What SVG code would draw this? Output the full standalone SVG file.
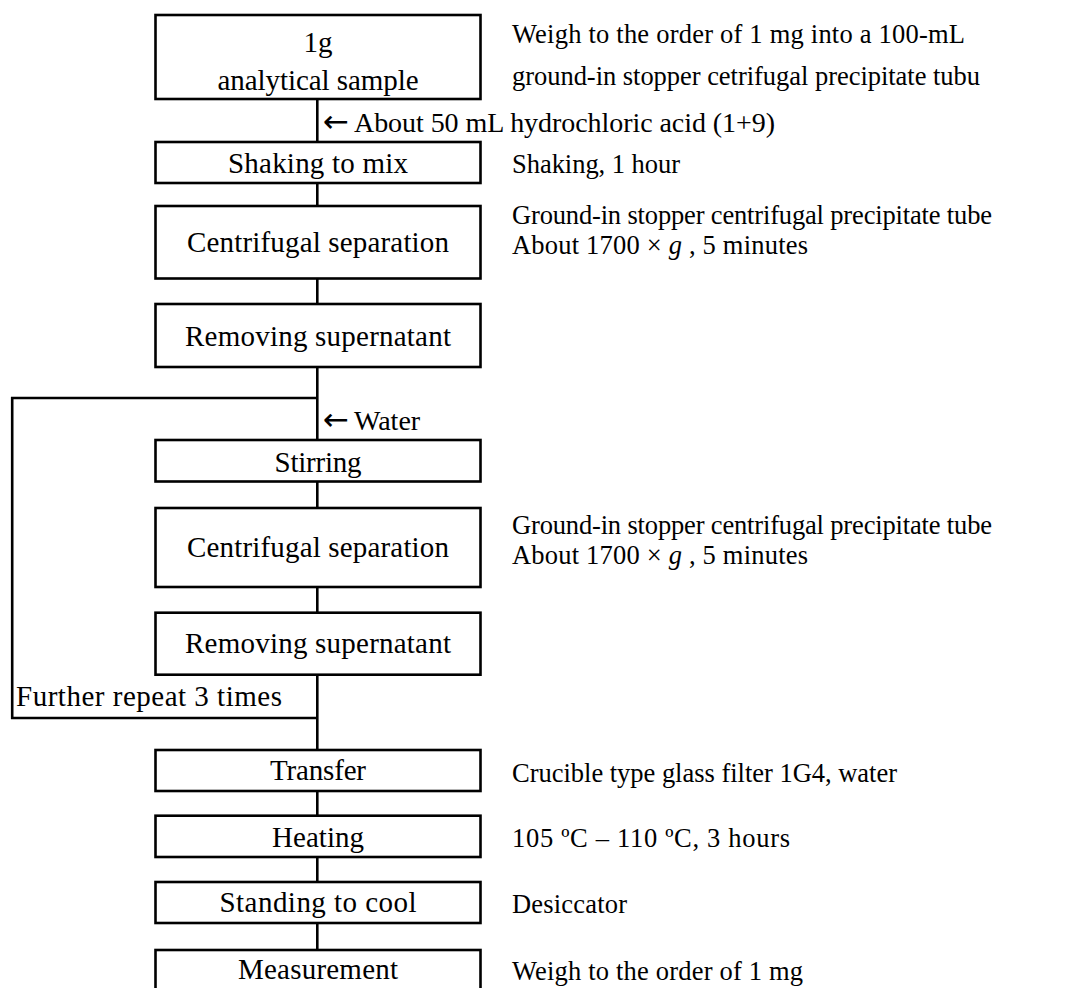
<svg xmlns="http://www.w3.org/2000/svg" width="1067" height="988" viewBox="0 0 1067 988">
<style>
  .box { fill: #ffffff; stroke: #000000; stroke-width: 2.6; }
  .ln { fill: none; stroke: #000000; stroke-width: 2.6; }
  .t { font-family: "Liberation Serif", "Times New Roman", serif; font-size: 29px; fill: #000000; }
  .c { text-anchor: middle; }
  .r { font-family: "Liberation Serif", "Times New Roman", serif; font-size: 26.5px; fill: #000000; }
  .n { font-family: "Liberation Serif", "Times New Roman", serif; font-size: 28px; fill: #000000; }
  .arr { font-family: "DejaVu Sans", sans-serif; font-size: 31px; }
</style>
<rect width="1067" height="988" fill="#ffffff"/>
<g id="connectors">
  <line class="ln" x1="317.3" y1="99" x2="317.3" y2="142"/>
  <line class="ln" x1="317.3" y1="183" x2="317.3" y2="206"/>
  <line class="ln" x1="317.3" y1="278.5" x2="317.3" y2="304"/>
  <line class="ln" x1="317.3" y1="367" x2="317.3" y2="440"/>
  <line class="ln" x1="317.3" y1="481.5" x2="317.3" y2="508"/>
  <line class="ln" x1="317.3" y1="587" x2="317.3" y2="612.7"/>
  <line class="ln" x1="317.3" y1="674.7" x2="317.3" y2="750"/>
  <line class="ln" x1="317.3" y1="791" x2="317.3" y2="815.7"/>
  <line class="ln" x1="317.3" y1="857" x2="317.3" y2="882"/>
  <line class="ln" x1="317.3" y1="923" x2="317.3" y2="950"/>
  <polyline class="ln" points="317.3,398 12.2,398 12.2,718 317.3,718"/>
  <text class="n" x="323" y="131.7"><tspan class="arr">←</tspan><tspan x="354" textLength="421">About 50 mL hydrochloric acid (1+9)</tspan></text>
  <text class="n" x="323" y="430"><tspan class="arr">←</tspan><tspan x="354">Water</tspan></text>
  <text class="t" x="16" y="706" textLength="266">Further repeat 3 times</text>
</g>
<g id="n1">
  <rect class="box" x="155.5" y="15" width="325" height="84"/>
  <text class="t c" x="318" y="52.3">1g</text>
  <text class="t c" x="318" y="90" textLength="201">analytical sample</text>
  <text class="r" x="512" y="43" textLength="453">Weigh to the order of 1 mg into a 100-mL</text>
  <text class="r" x="512" y="84.5" textLength="468">ground-in stopper cetrifugal precipitate tubu</text>
</g>
<g id="n2">
  <rect class="box" x="155.5" y="142" width="325" height="41"/>
  <text class="t c" x="318" y="173.3" textLength="180">Shaking to mix</text>
  <text class="r" x="512" y="173.3" textLength="168">Shaking, 1 hour</text>
</g>
<g id="n3">
  <rect class="box" x="155.5" y="206" width="325" height="72.5"/>
  <text class="t c" x="318" y="252" textLength="262">Centrifugal separation</text>
  <text class="r" x="512" y="224" textLength="480">Ground-in stopper centrifugal precipitate tube</text>
  <text class="r" x="512" y="254" textLength="296">About 1700 × <tspan font-style="italic">g</tspan> , 5 minutes</text>
</g>
<g id="n4">
  <rect class="box" x="155.5" y="304" width="325" height="63"/>
  <text class="t c" x="318" y="346" textLength="266">Removing supernatant</text>
</g>
<g id="n5">
  <rect class="box" x="155.5" y="440" width="325" height="41.5"/>
  <text class="t c" x="318" y="471.7" textLength="87">Stirring</text>
</g>
<g id="n6">
  <rect class="box" x="155.5" y="508" width="325" height="79"/>
  <text class="t c" x="318" y="557.3" textLength="262">Centrifugal separation</text>
  <text class="r" x="512" y="534" textLength="480">Ground-in stopper centrifugal precipitate tube</text>
  <text class="r" x="512" y="564" textLength="296">About 1700 × <tspan font-style="italic">g</tspan> , 5 minutes</text>
</g>
<g id="n7">
  <rect class="box" x="155.5" y="612.7" width="325" height="62"/>
  <text class="t c" x="318" y="652.7" textLength="266">Removing supernatant</text>
</g>
<g id="n8">
  <rect class="box" x="155.5" y="750" width="325" height="41"/>
  <text class="t c" x="318" y="780" textLength="96">Transfer</text>
  <text class="r" x="512" y="781.7" textLength="385">Crucible type glass filter 1G4, water</text>
</g>
<g id="n9">
  <rect class="box" x="155.5" y="815.7" width="325" height="41.3"/>
  <text class="t c" x="318" y="846.5" textLength="92">Heating</text>
  <text class="r" x="512" y="847.3" textLength="278">105 ºC – 110 ºC, 3 hours</text>
</g>
<g id="n10">
  <rect class="box" x="155.5" y="882" width="325" height="41"/>
  <text class="t c" x="318" y="912.3" textLength="197">Standing to cool</text>
  <text class="r" x="512" y="913.3" textLength="115">Desiccator</text>
</g>
<g id="n11">
  <rect class="box" x="155.5" y="950" width="325" height="50"/>
  <text class="t c" x="318" y="979.3" textLength="160">Measurement</text>
  <text class="r" x="512" y="980" textLength="291">Weigh to the order of 1 mg</text>
</g>
</svg>
